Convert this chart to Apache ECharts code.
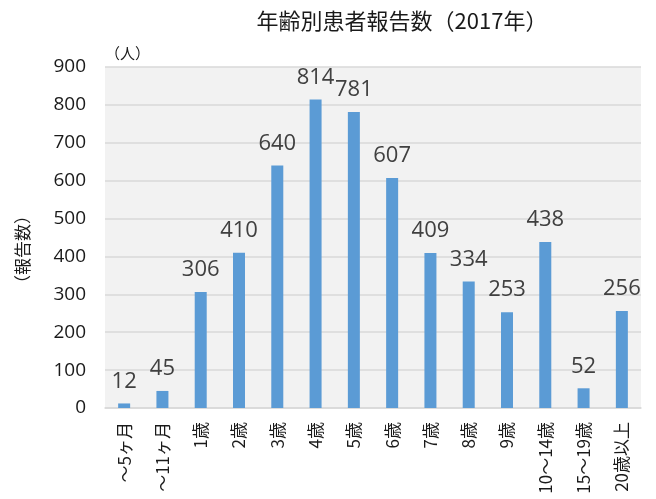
<!DOCTYPE html>
<html><head><meta charset="utf-8">
<script src="https://cdn.jsdelivr.net/npm/echarts@6/dist/echarts.min.js"></script>
<style>html,body{margin:0;padding:0;background:#fff}#c{width:656px;height:499px}</style>
</head><body><div id="c"></div>
<script>
const categories = ['〜5ヶ月','〜11ヶ月','1歳','2歳','3歳','4歳','5歳','6歳','7歳','8歳','9歳','10〜14歳','15〜19歳','20歳以上'];
const reports = [12, 45, 306, 410, 640, 814, 781, 607, 409, 334, 253, 438, 52, 256];
const yTicks = {min: 0, max: 900, interval: 100};
const titleText = '年齢別患者報告数（2017年）';

const FONT = '"Noto Sans CJK JP", "Liberation Sans", sans-serif';
const NUMFONT = '"Open Sans", "Liberation Sans", sans-serif';
const chart = echarts.init(document.getElementById('c'));
chart.setOption({
  backgroundColor: '#ffffff',
  animation: false,
  title: {
    text: titleText, left: 397, top: 5, textAlign: 'center',
    textStyle: {fontFamily: FONT, fontSize: 22, fontWeight: 'normal', color: '#1a1a1a'}
  },
  grid: {left: 105, right: 15, top: 67, bottom: 91, show: true, backgroundColor: '#f2f2f2',
    borderWidth: 0, containLabel: false, outerBoundsMode: 'none'},
  xAxis: {
    type: 'category', data: categories,
    name: '（年齢）', nameLocation: 'middle', nameGap: 78,
    nameTextStyle: {fontFamily: FONT, fontSize: 16, color: '#1a1a1a'},
    axisLine: {lineStyle: {color: '#d9d9d9', width: 1.5}},
    axisTick: {show: false},
    axisLabel: {rotate: 90, margin: 14, fontFamily: FONT, fontSize: 17, color: '#1a1a1a', interval: 0}
  },
  yAxis: {
    type: 'value', min: yTicks.min, max: yTicks.max, interval: yTicks.interval,
    name: '（人）', nameLocation: 'end', nameGap: 6,
    nameTextStyle: {fontFamily: FONT, fontSize: 15, color: '#1a1a1a', align: 'left'},
    axisLine: {show: false}, axisTick: {show: false},
    axisLabel: {margin: 19, fontFamily: NUMFONT, fontSize: 19, color: '#1a1a1a'},
    splitLine: {lineStyle: {color: '#d9d9d9', width: 1.5}}
  },
  graphic: [{
    type: 'text', left: 14, top: 207, rotation: Math.PI / 2,
    style: {text: '（報告数）', font: '17px ' + FONT, fill: '#1a1a1a'}
  }],
  series: [{
    type: 'bar', data: reports, barWidth: 12,
    itemStyle: {color: '#5b9bd5'},
    label: {show: true, position: 'top', distance: 11,
      fontFamily: NUMFONT, fontSize: 22, color: '#404040'}
  }]
});
</script></body></html>
